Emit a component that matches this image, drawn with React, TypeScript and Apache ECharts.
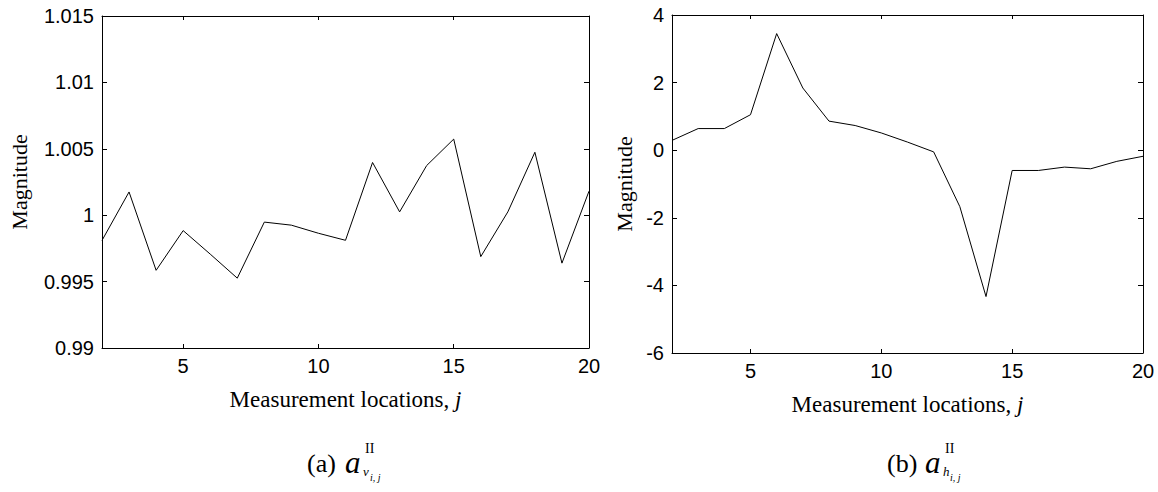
import React, { useEffect, useRef } from "react";
import * as echarts from "echarts";

// Measurement locations j = 2 … 20
const locations = [2, 3, 4, 5, 6, 7, 8, 9, 10, 11, 12, 13, 14, 15, 16, 17, 18, 19, 20];

// (a) vertical coefficients a^II_{v_i,j}
const aVertical = [
  0.9981, 1.00175, 0.99585, 0.99884, 0.99707, 0.99526, 0.99948, 0.99925, 0.99864,
  0.99811, 1.00397, 1.00025, 1.00374, 1.00573, 0.99688, 1.00025, 1.00474, 0.99639, 1.00181,
];

// (b) horizontal coefficients a^II_{h_i,j}
const aHorizontal = [
  0.29, 0.64, 0.64, 1.05, 3.45, 1.84, 0.86, 0.73, 0.51, 0.24, -0.05, -1.67, -4.33,
  -0.6, -0.6, -0.5, -0.55, -0.33, -0.18,
];

const xTicks = [5, 10, 15, 20];
const leftYTicks = [0.99, 0.995, 1, 1.005, 1.01, 1.015];
const rightYTicks = [-6, -4, -2, 0, 2, 4];

const SANS = "Liberation Sans, Arial, Helvetica, sans-serif";
const SERIF = "Liberation Serif, Times New Roman, serif";

const fmt = (v: number) => String(parseFloat(v.toFixed(4)));

function panel(idx: number, ticks: number[], min: number, max: number) {
  const common = {
    gridIndex: idx,
    axisLine: { show: true, onZero: false, lineStyle: { color: "#000", width: 1 } },
    splitLine: { show: false },
  };
  const xMain = {
    ...common,
    type: "value",
    min: 2,
    max: 20,
    position: "bottom",
    axisTick: { show: true, inside: true, length: 4, customValues: xTicks, lineStyle: { color: "#000" } },
    axisLabel: {
      show: true,
      customValues: xTicks,
      margin: 8,
      color: "#000",
      fontFamily: SANS,
      fontSize: 20,
    },
    name: "Measurement locations, {i|j}",
    nameLocation: "middle",
    nameGap: 40,
    nameTextStyle: {
      color: "#000",
      fontFamily: SERIF,
      fontSize: 23,
      rich: { i: { fontFamily: SERIF, fontSize: 23, fontStyle: "italic", color: "#000" } },
    },
  };
  const xTop = {
    ...common,
    type: "value",
    min: 2,
    max: 20,
    position: "top",
    axisTick: { show: true, inside: true, length: 4, customValues: xTicks, lineStyle: { color: "#000" } },
    axisLabel: { show: false },
  };
  const yMain = {
    ...common,
    type: "value",
    min,
    max,
    position: "left",
    axisTick: { show: true, inside: true, length: 5, customValues: ticks, lineStyle: { color: "#000" } },
    axisLabel: {
      show: true,
      customValues: ticks,
      formatter: (v: number) => fmt(v),
      margin: 8,
      color: "#000",
      fontFamily: SANS,
      fontSize: 20,
    },
    name: "Magnitude",
    nameLocation: "middle",
    nameGap: idx === 0 ? 72 : 37,
    nameRotate: 90,
    nameTextStyle: { color: "#000", fontFamily: SERIF, fontSize: 22 },
  };
  const yRight = {
    ...common,
    type: "value",
    min,
    max,
    position: "right",
    axisTick: { show: true, inside: true, length: 5, customValues: ticks, lineStyle: { color: "#000" } },
    axisLabel: { show: false },
  };
  return { x: [xMain, xTop], y: [yMain, yRight] };
}

// Sub-figure caption: "(a) a^II_{v_{i,j}}"
function caption(x0: number, tag: string, sub: string): any[] {
  const cy = 463;
  const t = (x: number, y: number, text: string, font: string) => ({
    type: "text",
    x,
    y,
    style: { text, font, fill: "#000", textVerticalAlign: "middle", textAlign: "left" },
  });
  return [
    t(x0, cy, tag, `26px ${SERIF}`),
    t(x0 + 38, cy - 1, "a", `italic 31px ${SERIF}`),
    t(x0 + 58, cy - 15, "II", `14px ${SERIF}`),
    t(x0 + 56, cy + 8, sub, `italic 13px ${SERIF}`),
    t(x0 + 63, cy + 14, "i, j", `italic 10px ${SERIF}`),
  ];
}

export default function App() {
  const ref = useRef<HTMLDivElement>(null);

  useEffect(() => {
    if (!ref.current) return;
    const chart = echarts.init(ref.current, undefined, { renderer: "svg" });
    const pa = panel(0, leftYTicks, 0.99, 1.015);
    const pb = panel(1, rightYTicks, -6, 4);

    const option: any = {
      animation: false,
      backgroundColor: "#fff",
      grid: [
        { left: 102, top: 16, width: 487, height: 332 },
        { left: 672, top: 15, width: 471, height: 338 },
      ],
      xAxis: [pa.x[0], pa.x[1], pb.x[0], pb.x[1]],
      yAxis: [pa.y[0], pa.y[1], pb.y[0], pb.y[1]],
      series: [
        {
          type: "line",
          xAxisIndex: 0,
          yAxisIndex: 0,
          data: locations.map((j, i) => [j, aVertical[i]]),
          showSymbol: false,
          lineStyle: { color: "#000", width: 1 },
        },
        {
          type: "line",
          xAxisIndex: 2,
          yAxisIndex: 2,
          data: locations.map((j, i) => [j, aHorizontal[i]]),
          showSymbol: false,
          lineStyle: { color: "#000", width: 1 },
        },
      ],
      graphic: [...caption(307, "(a)", "v"), ...caption(887, "(b)", "h")],
    };
    chart.setOption(option);
    return () => chart.dispose();
  }, []);

  return (
    <div
      ref={ref}
      style={{ position: "fixed", left: 0, top: 0, width: 1158, height: 492, background: "#fff" }}
    />
  );
}
